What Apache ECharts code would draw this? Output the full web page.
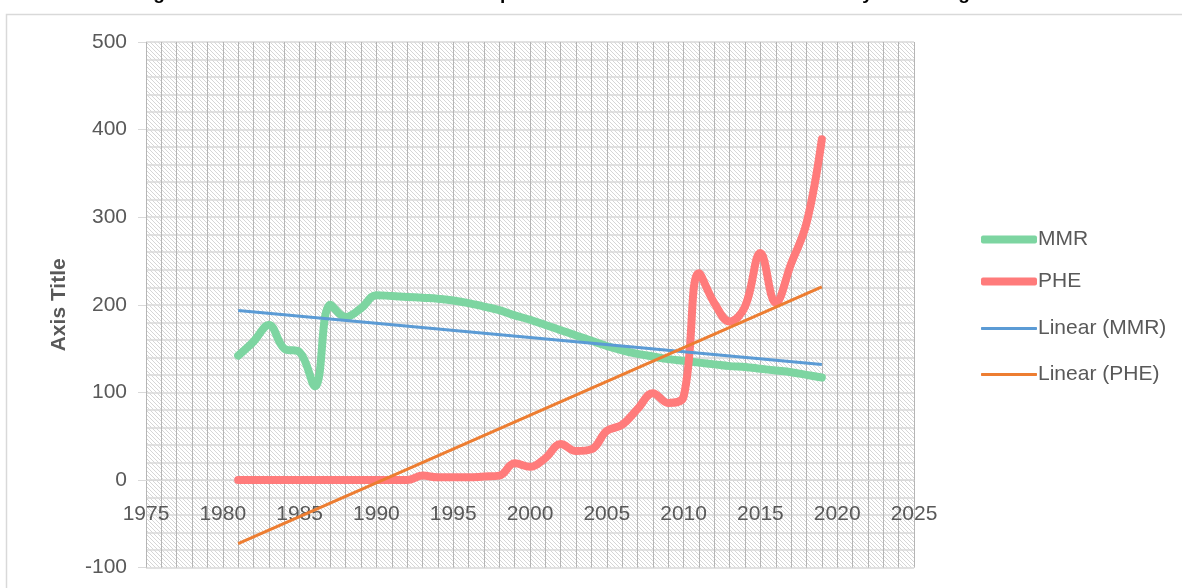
<!DOCTYPE html>
<html>
<head>
<meta charset="utf-8">
<script src="https://cdn.jsdelivr.net/npm/echarts@6/dist/echarts.min.js"></script>
<style>
  html, body { margin: 0; padding: 0; background: #ffffff; }
  #chart { width: 1182px; height: 588px; }
</style>
</head>
<body>
<div id="chart"></div>
<script>
// Years covered by both series
const years = [1981, 1982, 1983, 1984, 1985, 1986, 1987, 1988, 1989, 1990,
               1991, 1992, 1993, 1994, 1995, 1996, 1997, 1998, 1999, 2000,
               2001, 2002, 2003, 2004, 2005, 2006, 2007, 2008, 2009, 2010,
               2011, 2012, 2013, 2014, 2015, 2016, 2017, 2018, 2019];

// Maternal mortality ratio
const mmr = [142, 158, 177, 150, 146, 107, 200, 186, 196, 211,
             210, 209, 208, 207, 205, 202, 198, 194, 188, 183,
             177, 171, 165, 159, 153, 148, 144, 141, 138, 136,
             134, 132, 130, 129, 127, 125, 123, 120, 117];

// Public health expenditure
const phe = [0, 0, 0, 0, 0, 0, 0, 0, 0, 0,
             0, 0, 5, 3, 3, 3, 4, 5, 19, 15,
             25, 41, 33, 35, 56, 63, 81, 99, 88, 95,
             236, 202, 181, 198, 259, 202, 247, 293, 389];

const seriesNames = ['MMR', 'PHE', 'Linear (MMR)', 'Linear (PHE)'];
const titleText = 'Figure 1: Trend of Total Public Health Expenditure and Maternal Deaths over the years in Nigeria';
const yAxisName = 'Axis Title';

// Value range of the vertical axis; the year axis crosses it at zero
const yMin = -100, yMax = 500, yStep = 100;

// Least-squares straight line through a series, evaluated at the first and last year
function linearTrend(xs, ys) {
  const n = xs.length;
  let sx = 0, sy = 0, sxx = 0, sxy = 0;
  for (let i = 0; i < n; i++) {
    sx += xs[i]; sy += ys[i]; sxx += xs[i] * xs[i]; sxy += xs[i] * ys[i];
  }
  const slope = (n * sxy - sx * sy) / (n * sxx - sx * sx);
  const icpt = (sy - slope * sx) / n;
  const x0 = xs[0], x1 = xs[n - 1];
  return [[x0, icpt + slope * x0], [x1, icpt + slope * x1]];
}

// Diagonal hatch used as the plot-area fill
function hatchTile() {
  const size = 4;
  const c = document.createElement('canvas');
  c.width = size; c.height = size;
  const ctx = c.getContext('2d');
  ctx.fillStyle = '#ffffff';
  ctx.fillRect(0, 0, size, size);
  ctx.fillStyle = '#d6d6d6';
  for (let i = 0; i < size; i++) {
    ctx.fillRect(i, i, 1, 1);
  }
  return c;
}

const font = '"Liberation Sans", Arial, sans-serif';
const textGrey = '#595959';

const gridTop = 42, gridBottom = 20.4;
const gridHeight = 588 - gridTop - gridBottom;
// Distance from the bottom of the plot up to the zero line
const zeroOffset = gridHeight * (0 - yMin) / (yMax - yMin);

const chart = echarts.init(document.getElementById('chart'), null, { renderer: 'canvas' });

chart.setOption({
  animation: false,
  backgroundColor: '#ffffff',
  textStyle: { fontFamily: font },
  graphic: [
    {
      type: 'rect',
      left: 4, top: 12,
      shape: { width: 1300, height: 700 },
      style: { fill: 'none', stroke: '#d9d9d9', lineWidth: 1.5 },
      silent: true
    },
    {
      type: 'text',
      x: 570, y: 3,
      style: {
        text: titleText,
        font: 'bold 19px ' + font,
        fill: '#000000',
        align: 'center',
        verticalAlign: 'bottom'
      },
      silent: true
    }
  ],
  grid: {
    left: 146, right: 268, top: gridTop, bottom: gridBottom,
    outerBoundsMode: 'none',
    containLabel: false,
    show: true,
    borderWidth: 0,
    backgroundColor: { image: hatchTile(), repeat: 'repeat' }
  },
  legend: [
    {
      orient: 'vertical',
      left: 976, top: 224,
      itemWidth: 56, itemHeight: 8, itemGap: 21,
      icon: 'roundRect',
      textStyle: { fontSize: 21, color: textGrey, fontFamily: font, padding: [0, 0, 0, -4] },
      data: [seriesNames[0], seriesNames[1]]
    },
    {
      orient: 'vertical',
      left: 976, top: 313,
      itemWidth: 56, itemHeight: 3, itemGap: 25,
      icon: 'roundRect',
      textStyle: { fontSize: 21, color: textGrey, fontFamily: font, padding: [0, 0, 0, -4] },
      data: [seriesNames[2], seriesNames[3]]
    }
  ],
  xAxis: {
    type: 'value',
    position: 'bottom',
    offset: -zeroOffset,
    min: 1975, max: 2025, interval: 5,
    axisLine: { onZero: false, lineStyle: { color: '#d9d9d9', width: 1 } },
    axisTick: { show: false },
    axisLabel: {
      margin: 24, fontSize: 21, color: textGrey, fontFamily: font,
      formatter: (v) => String(v)
    },
    splitLine: { show: true, lineStyle: { color: '#b5b5b5', width: 1 } },
    minorTick: { show: false, splitNumber: 5 },
    minorSplitLine: { show: true, lineStyle: { color: '#b5b5b5', width: 1 } }
  },
  yAxis: {
    type: 'value',
    min: yMin, max: yMax, interval: yStep,
    name: yAxisName,
    nameLocation: 'middle',
    nameGap: 76,
    nameTextStyle: { fontSize: 21, fontWeight: 'bold', color: textGrey, fontFamily: font },
    axisLine: { show: false },
    axisTick: { show: true, length: 8, lineStyle: { color: '#d9d9d9' } },
    axisLabel: { margin: 19, fontSize: 21, color: textGrey, fontFamily: font },
    splitLine: { show: true, lineStyle: { color: '#d9d9d9', width: 1.5 } },
    minorTick: { show: false, splitNumber: 5 },
    minorSplitLine: { show: true, lineStyle: { color: '#d9d9d9', width: 1.5 } }
  },
  series: [
    {
      name: seriesNames[0],
      type: 'line',
      smooth: 0.4,
      symbol: 'none',
      data: years.map((y, i) => [y, mmr[i]]),
      lineStyle: { width: 8, color: '#7dd5a1', cap: 'round', join: 'round' },
      itemStyle: { color: '#7dd5a1' }
    },
    {
      name: seriesNames[1],
      type: 'line',
      smooth: 0.4,
      symbol: 'none',
      data: years.map((y, i) => [y, phe[i]]),
      lineStyle: { width: 8, color: '#ff7b7b', cap: 'round', join: 'round' },
      itemStyle: { color: '#ff7b7b' }
    },
    {
      name: seriesNames[2],
      type: 'line',
      symbol: 'none',
      data: linearTrend(years, mmr),
      lineStyle: { width: 3, color: '#5b9bd5' },
      itemStyle: { color: '#5b9bd5' }
    },
    {
      name: seriesNames[3],
      type: 'line',
      symbol: 'none',
      data: linearTrend(years, phe),
      lineStyle: { width: 3, color: '#ed7d31' },
      itemStyle: { color: '#ed7d31' }
    }
  ]
});
</script>
</body>
</html>
